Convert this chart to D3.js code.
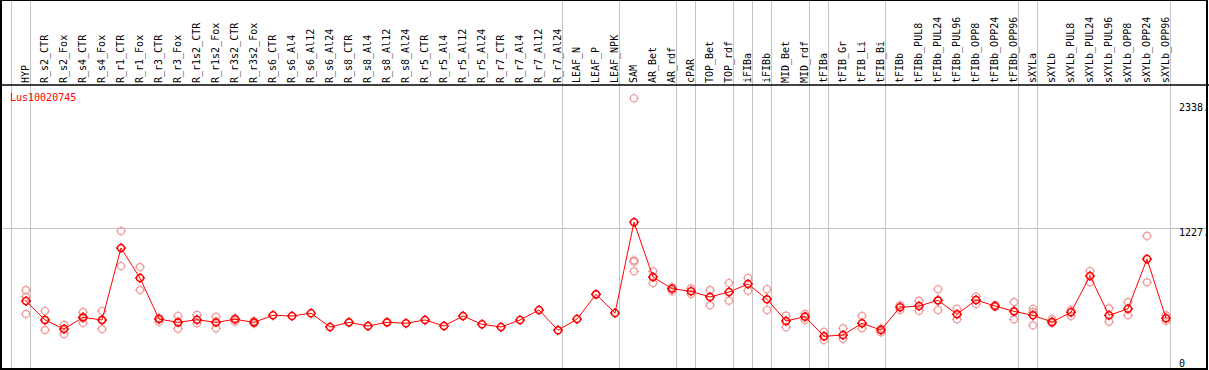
<!DOCTYPE html>
<html lang="en">
<head>
  <meta charset="UTF-8">
  <title>Lus10020745</title>
  <script src="https://d3js.org/d3.v7.min.js"></script>
  <style>
    body { margin: 0; padding: 0; background: #fff; }
    svg text { font-family: "DejaVu Sans Mono", monospace; font-size: 10px; }
  </style>
</head>
<body>
  <svg id="chart"></svg>
  <script>
    const geneName = "Lus10020745";

    const samples = [
      "HYP", "R_s2_CTR", "R_s2_Fox", "R_s4_CTR", "R_s4_Fox", "R_r1_CTR", "R_r1_Fox", "R_r3_CTR", "R_r3_Fox",
      "R_r1s2_CTR", "R_r1s2_Fox", "R_r3s2_CTR", "R_r3s2_Fox", "R_s6_CTR", "R_s6_Al4", "R_s6_Al12", "R_s6_Al24",
      "R_s8_CTR", "R_s8_Al4", "R_s8_Al12", "R_s8_Al24", "R_r5_CTR", "R_r5_Al4", "R_r5_Al12", "R_r5_Al24",
      "R_r7_CTR", "R_r7_Al4", "R_r7_Al12", "R_r7_Al24", "LEAF_N", "LEAF_P", "LEAF_NPK", "SAM", "AR_Bet", "AR_rdf",
      "cPAR", "TOP_Bet", "TOP_rdf", "iFIBa", "iFIBb", "MID_Bet", "MID_rdf", "tFIBa", "tFIB_Gr", "tFIB_Li", "tFIB_Bi",
      "tFIBb", "tFIBb_PUL8", "tFIBb_PUL24", "tFIBb_PUL96", "tFIBb_OPP8", "tFIBb_OPP24", "tFIBb_OPP96",
      "sXYLa", "sXYLb", "sXYLb_PUL8", "sXYLb_PUL24", "sXYLb_PUL96", "sXYLb_OPP8", "sXYLb_OPP24", "sXYLb_OPP96"
    ];

    // mean expression per sample
    const meanExpr = [
      582, 415, 335, 438, 415, 1050, 785, 423, 394,
      417, 394, 421, 394, 456, 450, 474, 353,
      394, 362, 394, 386, 415, 362, 450, 377,
      353, 415, 503, 324, 423, 641, 476, 1277, 794, 691,
      668, 618, 662, 732, 597, 406, 444, 271, 282, 386, 326,
      527, 538, 588, 465, 591, 538, 491,
      456, 397, 483, 803, 456, 514, 953, 430
    ];

    // replicate values per sample
    const repExpr = [
      [679, 618, 468], [494, 415, 326], [371, 335, 291], [485, 432, 388], [494, 415, 335], [1200, 891], [882, 679],
      [432, 400], [450, 338], [459, 386], [444, 341], [430, 400], [405, 384],
      [], [], [], [], [], [], [], [], [], [], [], [], [], [], [], [], [], [], [],
      [2371, 941, 929, 844], [844, 741], [703, 671],
      [694, 644], [679, 544], [741, 585], [785, 673], [686, 503], [453, 350], [468, 415],
      [311, 238], [341, 250], [450, 341], [341, 306],
      [544, 503], [585, 497], [686, 503], [514, 421], [620, 556], [547, 529], [573, 421],
      [514, 485, 368], [421, 386], [503, 450], [847, 747], [518, 400], [573, 456], [1156, 747], [456, 408]
    ];

    // index of the first sample of each group (last entry closes the last group)
    const groupStarts = [0, 1, 29, 32, 35, 36, 38, 39, 40, 42, 43, 46, 53, 54, 61];

    const yTicks = [2338, 1227, 0];

    const width = 1209;
    const height = 370;

    const svg = d3.select("#chart")
      .attr("width", width)
      .attr("height", height);

    const x = d3.scaleBand()
      .domain(samples)
      .range([11, 11 + samples.length * 19])
      .paddingInner(0)
      .paddingOuter(0);

    const step = x.step();
    const cx = d => x(d) + 15;

    const y = d3.scaleLinear()
      .domain([0, 2338])
      .range([367, 102]);

    // grid
    svg.append("g")
      .attr("stroke", "#c4c4c4")
      .attr("stroke-width", 1)
      .selectAll("line")
      .data(groupStarts)
      .join("line")
      .attr("x1", i => 11 + i * step + 0.5)
      .attr("x2", i => 11 + i * step + 0.5)
      .attr("y1", 0)
      .attr("y2", height);

    svg.append("line")
      .attr("stroke", "#c4c4c4")
      .attr("x1", 2)
      .attr("x2", 1207)
      .attr("y1", Math.round(y(1227)) + 0.5)
      .attr("y2", Math.round(y(1227)) + 0.5);

    // header
    svg.append("line")
      .attr("stroke", "#000")
      .attr("stroke-width", 1.5)
      .attr("x1", 0)
      .attr("x2", width)
      .attr("y1", 85)
      .attr("y2", 85);

    svg.append("g")
      .selectAll("text")
      .data(samples)
      .join("text")
      .attr("transform", d => `translate(${x(d) + 17.5},83) rotate(-90)`)
      .attr("fill", "#000")
      .text(d => d);

    // y labels
    svg.append("g")
      .selectAll("text")
      .data(yTicks)
      .join("text")
      .attr("x", 1179)
      .attr("y", d => Math.min(y(d) + 8.5, 367))
      .attr("fill", "#000")
      .text(d => d === 0 ? "0" : d + ".");

    svg.append("text")
      .attr("x", 10)
      .attr("y", 100.5)
      .attr("fill", "#ff0000")
      .text(geneName);

    // marker: ring with four small ticks
    const r = 3.5;
    const marker = `M${-r},0a${r},${r} 0 1,0 ${2 * r},0a${r},${r} 0 1,0 ${-2 * r},0` +
      `M0,${-r}v-1.5M0,${r}v1.5M${-r},0h-1.5M${r},0h1.5`;

    const reps = [];
    samples.forEach((s, i) => repExpr[i].forEach(v => reps.push({ s: s, v: v })));

    svg.append("g")
      .attr("fill", "none")
      .attr("stroke", "#f09a9a")
      .attr("stroke-width", 1.2)
      .selectAll("path")
      .data(reps)
      .join("path")
      .attr("transform", d => `translate(${cx(d.s)},${y(d.v)})`)
      .attr("d", marker);

    const line = d3.line()
      .x((d, i) => cx(samples[i]))
      .y(d => y(d));

    svg.append("path")
      .attr("fill", "none")
      .attr("stroke", "#ff0000")
      .attr("stroke-width", 1)
      .attr("d", line(meanExpr));

    svg.append("g")
      .attr("fill", "none")
      .attr("stroke", "#ff0000")
      .attr("stroke-width", 1.6)
      .selectAll("path")
      .data(meanExpr)
      .join("path")
      .attr("transform", (d, i) => `translate(${cx(samples[i])},${y(d)})`)
      .attr("d", marker);

    // frame
    svg.append("rect")
      .attr("x", 1)
      .attr("y", 0)
      .attr("width", 1206)
      .attr("height", 369)
      .attr("fill", "none")
      .attr("stroke", "#000")
      .attr("stroke-width", 2);
  </script>
</body>
</html>
